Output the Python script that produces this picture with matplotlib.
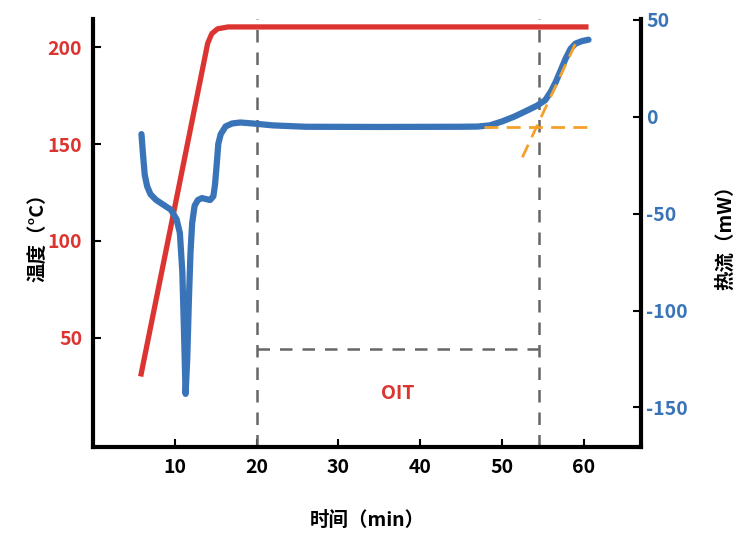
import numpy as np
import matplotlib.pyplot as plt

plt.rcParams['font.family'] = ['Noto Sans CJK SC', 'DejaVu Sans']
plt.rcParams['font.weight'] = 'bold'
plt.rcParams['axes.unicode_minus'] = False

# temperature curve (left axis, degC)
temp_t = [5.8, 10.0, 14.0, 14.5, 15.2, 16.5, 60.6]
temp_v = [30, 118, 202, 207, 209.5, 210.5, 210.5]

# heat flow curve (right axis, mW)
flow_t = [5.9, 6.1, 6.3, 6.6, 7.0, 7.7, 8.6, 9.5, 10.2, 10.6, 10.9, 11.1,
          11.3, 11.5, 11.7, 11.9, 12.1, 12.4, 12.8, 13.3, 13.8, 14.3, 14.7,
          14.9, 15.1, 15.3, 15.6, 16.2, 17.0, 18.0, 19.5, 22.0, 26.0, 35.0,
          45.0, 47.0, 48.5, 50.0, 51.5, 53.0, 54.3, 55.3, 56.0, 56.6, 57.2,
          57.8, 58.4, 59.0, 59.8, 60.6]
flow_v = [-9, -20, -30, -36, -40, -43, -45.5, -48, -53, -60, -80, -110,
          -143, -125, -95, -70, -55, -46, -43, -42, -42.5, -43, -41,
          -35, -25, -14, -9, -5, -3.5, -3, -3.5, -4.5, -5.2, -5.3,
          -5.2, -5.1, -4.5, -2.5, 0, 3, 5.7, 8.5, 13, 18, 24,
          30, 35, 37.7, 39, 39.7]

# onset construction (orange dashed)
base_t, base_v = [47.8, 60.8], [-5.2, -5.2]
tan_t, tan_v = [52.5, 59.0], [-21, 37.7]

oit_start, oit_end = 20, 54.5
oit_level = 44.2

red = '#dc3430'
blue = '#3a74b8'
orange = '#f5a02a'

fig = plt.figure(figsize=(7.4, 5.48), dpi=100)
ax = fig.add_axes([0.126, 0.184, 0.74, 0.781])
ax2 = ax.twinx()

ax.plot(temp_t, temp_v, color=red, lw=3.8, solid_capstyle='butt', zorder=3)
ax2.plot(flow_t, flow_v, color=blue, lw=4.5, solid_capstyle='round',
         solid_joinstyle='round', zorder=3)
ax2.plot(base_t, base_v, color=orange, lw=2, dashes=(5, 3), zorder=4)
ax2.plot(tan_t, tan_v, color=orange, lw=2, dashes=(5, 3), zorder=4)

for xv in (oit_start, oit_end):
    ax.axvline(xv, color='#666666', lw=1.8, dashes=(5, 4), zorder=2)
ax.plot([oit_start, oit_end], [oit_level, oit_level], color='#666666', lw=1.8,
        dashes=(5, 4))
ax.text((oit_start + oit_end) / 2, 21.4, 'OIT', color=red, fontsize=14,
        fontweight='bold', ha='center', va='center')

ax.set_xlim(0, 67)
ax.set_ylim(-6.5, 214.5)
ax2.set_ylim(-170.5, 50.3)

ax.set_xticks([10, 20, 30, 40, 50, 60])
ax.set_yticks([50, 100, 150, 200])
ax2.set_yticks([-150, -100, -50, 0, 50])

for a in (ax, ax2):
    a.spines['top'].set_visible(False)
    for s in ('left', 'right', 'bottom'):
        a.spines[s].set_linewidth(3)
    a.tick_params(direction='in', length=6, width=1.5, labelsize=14, pad=8)

ax.spines['right'].set_visible(False)
ax2.spines['left'].set_visible(False)
ax2.spines['bottom'].set_visible(False)
ax.tick_params(axis='y', labelcolor=red)
ax2.tick_params(axis='y', labelcolor=blue, pad=4)
for lab in ax.get_xticklabels() + ax.get_yticklabels() + ax2.get_yticklabels():
    lab.set_fontweight('bold')

ax.set_xlabel('时间（min）', fontsize=14, fontweight='bold', labelpad=24)
ax.set_ylabel('温度（°C）', fontsize=14, fontweight='bold', labelpad=0)
ax2.set_ylabel('热流（mW）', fontsize=14, fontweight='bold', labelpad=20,
               rotation=90)

fig.savefig('out.png', dpi=100)
